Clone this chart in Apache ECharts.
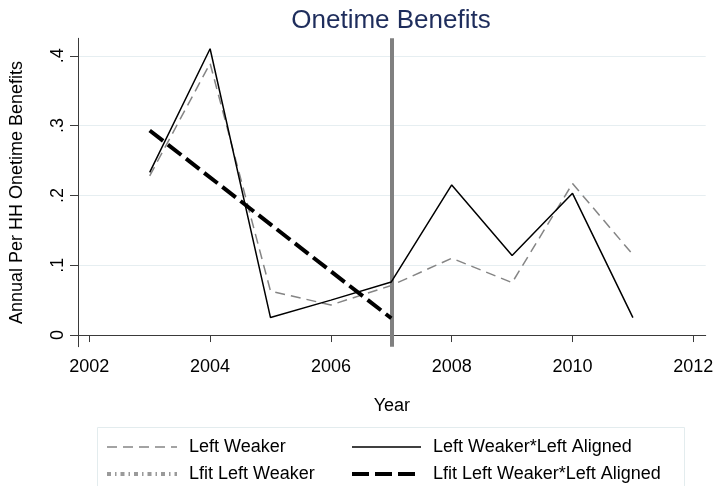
<!DOCTYPE html>
<html>
<head>
<meta charset="utf-8">
<script src="https://cdn.jsdelivr.net/npm/echarts@6/dist/echarts.min.js"></script>
<style>
html,body{margin:0;padding:0;background:#fff;}
#chart{width:717px;height:486px;}
</style>
</head>
<body>
<div id="chart"></div>
<script>
// ---- data ----
var years = [2003, 2004, 2005, 2006, 2007, 2008, 2009, 2010, 2011];
var leftWeaker = [0.228, 0.389, 0.063, 0.043, 0.071, 0.110, 0.075, 0.217, 0.115];
var leftWeakerAligned = [0.233, 0.410, 0.025, 0.050, 0.076, 0.215, 0.114, 0.203, 0.025];
// the "Lfit Left Weaker" line is not visible in the plot area of the reference (only in the legend)
var lfitYears = [2003, 2007];
var lfitLeftWeaker = [];
var lfitLeftWeakerAligned = [0.293, 0.024];
var xTicks = [2002, 2004, 2006, 2008, 2010, 2012];
var yTicks = [0, 0.1, 0.2, 0.3, 0.4];
var policyYear = 2007;
var seriesNames = ['Left Weaker', 'Left Weaker*Left Aligned', 'Lfit Left Weaker', 'Lfit Left Weaker*Left Aligned'];

function pairs(xs, ys) { return ys.map(function (y, i) { return [xs[i], y]; }); }

var FONT = '"Liberation Sans", Arial, Helvetica, sans-serif';
var chart = echarts.init(document.getElementById('chart'), null, {renderer: 'canvas'});

var styles = [
  {color: '#858585', width: 1.5, type: [10, 6]},
  {color: '#000', width: 1.5, type: 'solid'},
  {color: '#9a9a9a', width: 4, type: [4, 4, 1.5, 4]},
  {color: '#000', width: 4, type: [17, 6]}
];

var legendText = {fontFamily: FONT, fontSize: 18, color: '#000', lineHeight: 18, padding: [0, 0, 0, 7]};
var legendCommon = {orient: 'vertical', top: 438, padding: 0, height: 60, itemHeight: 14, itemGap: 9,
  selectedMode: false, textStyle: legendText, itemStyle: {opacity: 0, borderWidth: 0}};
function legendItem(i) { return {name: seriesNames[i], lineStyle: {width: styles[i].width, type: styles[i].type, color: styles[i].color}}; }

chart.setOption({
  animation: false,
  backgroundColor: '#fff',
  grid: {left: 77, right: 11.3, top: 38.3, bottom: 139.3, containLabel: false},
  graphic: [
    {type: 'rect', z: -10, shape: {x: 97.5, y: 427.5, width: 587, height: 80},
     style: {fill: '#fff', stroke: '#e3ecee', lineWidth: 1}},
    {type: 'text', x: 391, y: 21, style: {text: 'Onetime Benefits', fill: '#1e2d5c',
     font: '26px ' + FONT, textAlign: 'center', textVerticalAlign: 'middle'}}
  ],
  legend: [
    Object.assign({data: [legendItem(0), legendItem(2)], left: 105, itemWidth: 70}, legendCommon),
    Object.assign({data: [legendItem(1), legendItem(3)], left: 350, itemWidth: 69}, legendCommon)
  ],
  xAxis: {
    type: 'value', min: 2001.813, max: 2012.205,
    name: 'Year', nameLocation: 'middle', nameGap: 50,
    nameTextStyle: {fontFamily: FONT, fontSize: 18, color: '#000'},
    axisLine: {lineStyle: {color: '#3a3a3a', width: 1}},
    axisTick: {show: true, length: 7, lineStyle: {color: '#3a3a3a'}, customValues: xTicks},
    axisLabel: {customValues: xTicks, margin: 11, fontFamily: FONT, fontSize: 18, color: '#000',
                formatter: function (v) { return String(v); }},
    splitLine: {show: false}
  },
  yAxis: {
    type: 'value', min: -0.0167, max: 0.425,
    name: 'Annual Per HH Onetime Benefits', nameLocation: 'middle', nameGap: 52, nameRotate: 90,
    nameTextStyle: {fontFamily: FONT, fontSize: 18, color: '#000'},
    axisLine: {show: true, lineStyle: {color: '#3a3a3a', width: 1}},
    axisTick: {show: true, length: 8, lineStyle: {color: '#3a3a3a'}, customValues: yTicks},
    axisLabel: {customValues: yTicks, rotate: 90, margin: 11, fontFamily: FONT, fontSize: 18, color: '#000',
                formatter: function (v) { return v === 0 ? '0' : String(Math.round(v * 10) / 10).replace(/^0\./, '.'); }},
    splitLine: {show: true, lineStyle: {color: '#e6eef1', width: 1}}
  },
  series: [
    {name: seriesNames[0], type: 'line', data: pairs(years, leftWeaker), symbol: 'none', showSymbol: false, z: 3,
     lineStyle: styles[0], itemStyle: {color: styles[0].color},
     markLine: {silent: true, symbol: 'none', label: {show: false}, z: 2,
       lineStyle: {color: '#808080', width: 4, type: 'solid'},
       data: [{xAxis: policyYear}]}},
    {name: seriesNames[1], type: 'line', data: pairs(years, leftWeakerAligned), symbol: 'none', showSymbol: false, z: 4,
     lineStyle: styles[1], itemStyle: {color: styles[1].color}},
    {name: seriesNames[2], type: 'line', data: pairs(lfitYears, lfitLeftWeaker), symbol: 'none', showSymbol: false, z: 5,
     lineStyle: styles[2], itemStyle: {color: styles[2].color}},
    {name: seriesNames[3], type: 'line', data: pairs(lfitYears, lfitLeftWeakerAligned), symbol: 'none', showSymbol: false, z: 6,
     lineStyle: styles[3], itemStyle: {color: styles[3].color}}
  ]
});
</script>
</body>
</html>
